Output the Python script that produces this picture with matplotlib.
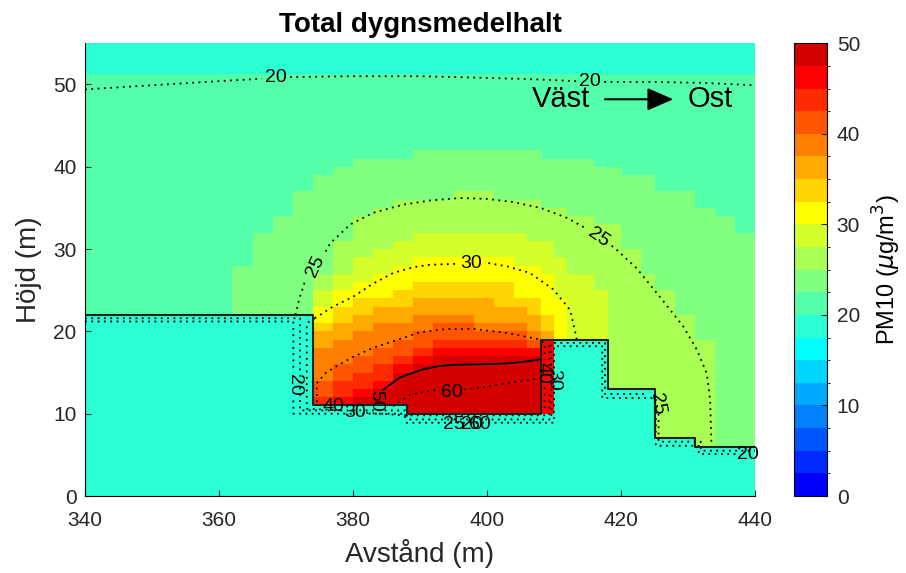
import numpy as np
import matplotlib
matplotlib.use('Agg')
import matplotlib.pyplot as plt
from matplotlib.colors import ListedColormap, BoundaryNorm

nan = np.nan

# colour bar bands, 0..50 in steps of 2.5
band_colors = ['#0000ff', '#002bff', '#0055ff', '#0080ff', '#00aaff', '#00d4ff', '#00ffff',
               '#2bffd4', '#55ffaa', '#80ff80', '#aaff55', '#d4ff2b', '#ffff00', '#ffd400',
               '#ffaa00', '#ff8000', '#ff5500', '#ff2b00', '#ff0000', '#d40000']
band_edges = np.arange(0, 52.5, 2.5)

# column groups (m) and the height (m) up to which each band reaches in that group
col_edges = [340, 362, 365, 368, 371, 374, 377, 380, 383, 386, 389, 392, 395, 398, 401, 404,
             406, 408, 410, 412, 414, 416, 418, 420, 423, 425, 428, 431, 434, 437, 440]
top_225 = [0, 28, 32, 34, 37, 39, 40, 41, 41, 41, 42, 42, 42, 42, 42, 42, 42, 41, 41, 41, 41, 40, 40, 39, 39, 37, 37, 35, 34, 32]
top_250 = [0, 0, 0, 0, 0, 27, 31, 34, 35, 36, 36, 36, 37, 37, 36, 36, 36, 35, 35, 34, 34, 33, 33, 30, 27, 25, 22, 19, 0, 0]
top_275 = [0, 0, 0, 0, 0, 25, 27, 29, 30, 31, 32, 32, 32, 32, 32, 32, 31, 31, 29, 27, 27, 25, 0, 0, 0, 0, 0, 0, 0, 0]
top_300 = [0, 0, 0, 0, 0, 23, 25, 26, 27, 28, 29, 29, 29, 29, 29, 28, 28, 27, 24, 0, 0, 0, 0, 0, 0, 0, 0, 0, 0, 0]
top_325 = [0, 0, 0, 0, 0, 21, 23, 24, 24, 25, 26, 26, 26, 26, 26, 24, 24, 22, 0, 0, 0, 0, 0, 0, 0, 0, 0, 0, 0, 0]
top_350 = [0, 0, 0, 0, 0, 20, 21, 22, 23, 23, 24, 24, 24, 24, 23, 23, 22, 20, 0, 0, 0, 0, 0, 0, 0, 0, 0, 0, 0, 0]
top_375 = [0, 0, 0, 0, 0, 18, 19, 20, 21, 21, 22, 22, 22, 21, 21, 21, 20, 19, 0, 0, 0, 0, 0, 0, 0, 0, 0, 0, 0, 0]
top_400 = [0, 0, 0, 0, 0, 14, 16, 17, 18, 19, 20, 21, 21, 20, 20, 20, 19, 19, 0, 0, 0, 0, 0, 0, 0, 0, 0, 0, 0, 0]
top_425 = [0, 0, 0, 0, 0, 12, 14, 15, 16, 17, 18, 19, 19, 19, 19, 19, 18, 19, 0, 0, 0, 0, 0, 0, 0, 0, 0, 0, 0, 0]
top_450 = [0, 0, 0, 0, 0, 0, 12, 13, 14, 16, 17, 18, 18, 18, 18, 18, 18, 19, 0, 0, 0, 0, 0, 0, 0, 0, 0, 0, 0, 0]
top_475 = [0, 0, 0, 0, 0, 0, 0, 12, 13, 15, 16, 17, 17, 17, 17, 17, 17, 0, 0, 0, 0, 0, 0, 0, 0, 0, 0, 0, 0, 0]
top_strip_y = 51.3   # above this the field drops below 20 again

# building blocks (cells shown as 17.5-20)
bld_x0 = [340, 374, 388, 410, 418, 425, 431]
bld_x1 = [374, 388, 410, 418, 425, 431, 440]
bld_h = [22, 11, 10, 19, 13, 7, 6]

# building outline
outline_x = [340, 374, 374, 388, 388, 408, 408, 418, 418, 425, 425, 431, 431, 440]
outline_y = [22, 22, 11, 11, 10, 10, 19, 19, 13, 13, 7, 7, 6, 6]

# contour lines (nan = gap for a label)
c20_top_x = [340, 350, 360, 366.4, nan, 370.6, 380, 390, 400, 408, 413.3, nan, 417.5, 425, 432, 440]
c20_top_y = [49.4, 49.9, 50.4, 50.7, nan, 50.9, 51.0, 51.0, 50.8, 50.6, 50.4, nan, 50.3, 50.3, 50.2, 49.9]
c20_low_x = [340, 371.1, 371.1, nan, 371.1, 371.1, 387.6, 388.0, 410.0, 410.0, 417.2, 417.2, 425.2, 425.2, 431.6, 431.6, 437.4]
c20_low_y = [21.2, 21.2, 15.4, nan, 11.6, 10.0, 10.0, 8.9, 8.9, 18.2, 18.2, 11.9, 11.9, 6.1, 6.1, 5.1, 5.1]
c25_arc_x = [371.4, 372.0, 372.8, nan, 375.9, 376.6, 379.6, 383, 387.5, 391.5, 396, 400, 404, 408, 411.9, 414.6,
             nan, 418.6, 419.1, 422.3, 425.8, 429.3, 431.3, 432.8, 433.3, 433.5]
c25_arc_y = [22.0, 24.0, 26.0, nan, 29.7, 30.7, 33.0, 34.4, 35.4, 35.9, 36.2, 36.1, 35.7, 35.0, 33.8, 32.6,
             nan, 30.4, 30.1, 27.7, 24.2, 20.6, 17.8, 14.9, 11.7, 6.2]
c25_low_x = [340, 372.1, 372.1, 387.8, 388.2, 409.6, 409.6, 417.6, 417.6, 423.8, nan, 425.6, 425.6, 431.9, 431.9, 440]
c25_low_y = [21.6, 21.6, 10.4, 10.4, 9.3, 9.3, 18.6, 18.6, 12.4, 12.4, nan, 10.0, 6.6, 6.6, 5.5, 5.5]
c30_arc_x = [374.3, 377, 380, 383, 386, 389, 391.5, 395.3, nan, 400.2, 403, 406.4, 409.9, 412.4, 413.1, 413.4]
c30_arc_y = [21.6, 23.0, 24.2, 25.8, 27.1, 27.8, 28.1, 28.2, nan, 28.3, 27.9, 27.1, 25.1, 22.6, 20.2, 19.0]
c30_low_x = [374.3, 373.1, 373.1, 378.7, nan, 382.0, 388, 409.3, 409.3, nan, 409.3, 409.3]
c30_low_y = [21.6, 21.0, 10.6, 10.4, nan, 10.1, 9.8, 9.8, 12.4, nan, 15.8, 19.0]
c40_x = [374.6, 374.6, 376, 378, 380, 383, 386, 390, 394, 398, 403, 407.4, 408.6, 408.6, nan, 408.6, 408.6]
c40_y = [11.4, 13.7, 15.0, 16.0, 16.9, 18.0, 18.8, 19.9, 20.3, 20.3, 19.8, 19.1, 18.6, 16.6, nan, 13.2, 10.3]
c50_x = [384.5, 387, 390.5, 393, 395.5, 399, 402.9, 405.5, 407.9]
c50_y = [12.9, 14.4, 15.4, 15.8, 15.95, 16.0, 16.1, 16.3, 16.6]
c60_x = [386, 388.5, 391.5, 393.0, nan, 396.6, 397.5, 400, 402.9, 405.5, 407.9]
c60_y = [10.9, 12.3, 12.8, 12.9, nan, 12.95, 13.0, 13.3, 13.7, 14.0, 14.3]

# contour labels: text, x, y, rotation
lab_text = ['20', '20', '25', '25', '30', '40', '30', '50', '60', '25', '20', '60', '40', '30', '20', '25', '20']
lab_x = [368.5, 415.4, 374.4, 416.6, 397.7, 377.1, 380.3, 383.4, 394.8, 395.0, 397.8, 399.0, 408.4, 409.9, 371.2, 425.4, 439.0]
lab_y = [50.8, 50.4, 27.9, 31.4, 28.2, 10.9, 10.1, 11.6, 12.6, 8.7, 8.7, 8.7, 14.9, 14.1, 13.5, 11.2, 5.0]
lab_rot = [0, 0, 65, -35, 0, 0, 0, 270, 0, 0, 0, 0, 270, 270, 270, 280, 0]

plt.rcParams['font.family'] = ['Liberation Sans', 'DejaVu Sans']

# build the cell field
xe = np.arange(340, 441)
ye = np.unique(np.r_[np.arange(0, 56), top_strip_y])
xc = (xe[:-1] + xe[1:]) / 2
yc = (ye[:-1] + ye[1:]) / 2
X, Y = np.meshgrid(xc, yc)
grp = np.searchsorted(col_edges, X, side='right') - 1
grp = np.clip(grp, 0, len(col_edges) - 2)

level = np.ones(X.shape)
tops = [top_225, top_250, top_275, top_300, top_325, top_350, top_375, top_400, top_425, top_450, top_475]
for k, t in enumerate(tops):
    t = np.array(t)
    level[Y < t[grp]] = k + 2
for x0, x1, h in zip(bld_x0, bld_x1, bld_h):
    level[(X > x0) & (X < x1) & (Y < h)] = 0
level[Y > top_strip_y] = 0
field = 18.75 + 2.5 * level

cmap = ListedColormap(band_colors)
norm = BoundaryNorm(band_edges, cmap.N)

fig = plt.figure(figsize=(9.06, 5.73), dpi=100)
ax = fig.add_axes([85/906, 77/573, 670/906, 452.7/573])
mesh = ax.pcolormesh(xe, ye, field, cmap=cmap, norm=norm, shading='flat')

dot = dict(color='k', lw=1.3, ls=(0, (1, 2.5)))
for cx, cy in [(c20_top_x, c20_top_y), (c20_low_x, c20_low_y), (c25_arc_x, c25_arc_y),
               (c25_low_x, c25_low_y), (c30_arc_x, c30_arc_y), (c30_low_x, c30_low_y),
               (c40_x, c40_y), (c60_x, c60_y)]:
    ax.plot(cx, cy, **dot)
ax.plot(c50_x, c50_y, color='k', lw=1.3)
ax.plot(outline_x, outline_y, color='#222222', lw=1.5)

for t, x, y, r in zip(lab_text, lab_x, lab_y, lab_rot):
    ax.text(x, y, t, fontsize=14, rotation=r, ha='center', va='center')

# wind direction
ax.text(411.1, 48.2, 'Väst', fontsize=21, ha='center', va='center')
ax.annotate('', xy=(427.8, 48.2), xytext=(417.6, 48.2),
            arrowprops=dict(arrowstyle='-|>,head_length=0.8,head_width=0.35', color='k',
                            lw=1.5, mutation_scale=20, shrinkA=0, shrinkB=0))
ax.text(433.3, 48.2, 'Ost', fontsize=21, ha='center', va='center')

ax.set_xlim(340, 440)
ax.set_ylim(0, 55)
ax.set_xticks(np.arange(340, 441, 20))
ax.set_yticks(np.arange(0, 51, 10))
ax.tick_params(direction='in', length=4, labelsize=15, colors='#262626')
ax.tick_params(axis='x', pad=11)
ax.tick_params(axis='y', pad=6)
ax.spines['top'].set_visible(False)
ax.spines['right'].set_visible(False)
ax.set_xlabel('Avstånd (m)', fontsize=20, color='#262626', labelpad=6)
ax.set_ylabel('Höjd (m)', fontsize=20, color='#262626', labelpad=8)
ax.set_title('Total dygnsmedelhalt', fontsize=20, fontweight='bold', pad=8)

cax = fig.add_axes([794/906, 77/573, 33/906, 452.7/573])
cb = fig.colorbar(mesh, cax=cax, ticks=np.arange(0, 51, 10))
cb.ax.tick_params(direction='in', length=4, labelsize=15, colors='#262626', pad=7)
cb.outline.set_linewidth(0.8)
cb.set_label('PM10 ($\\mu$g/m$^3$)', fontsize=17, labelpad=8)

fig.savefig('out.png', dpi=100)
